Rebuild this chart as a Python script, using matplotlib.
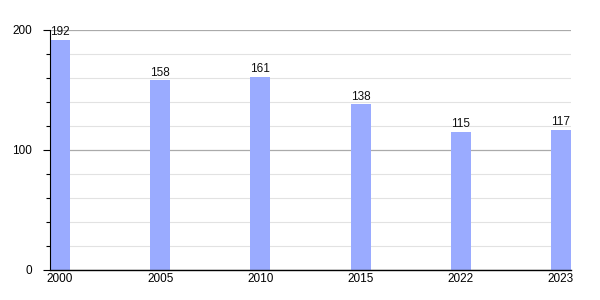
import numpy as np
from matplotlib import pyplot as plt
from matplotlib.ticker import MultipleLocator

years = ["2000", "2005", "2010", "2015", "2022", "2023"]
values = [192, 158, 161, 138, 115, 117]

plt.rcParams["font.family"] = ["Liberation Sans", "DejaVu Sans"]

fig = plt.figure(figsize=(6, 3), dpi=100)
ax = fig.add_axes([50 / 600, 30 / 300, 521 / 600, 240 / 300])

x = np.arange(len(years))
bar_w = 0.2
ax.bar(x, values, width=bar_w, align="edge", color="#9aabff", zorder=2)

# value labels above bars
for xi, v in zip(x, values):
    ax.text(xi + bar_w / 2, v + 1.5, str(v), ha="center", va="bottom",
            fontsize=8.5, color="#111111", clip_on=False)

ax.set_xlim(0, len(years) - 1 + bar_w)
ax.set_ylim(0, 200)
ax.set_xticks(x + bar_w / 2)
ax.set_xticklabels(years, fontsize=8.5)
ax.tick_params(axis="x", length=0, pad=2)

ax.yaxis.set_major_locator(MultipleLocator(100))
ax.yaxis.set_minor_locator(MultipleLocator(20))
ax.tick_params(axis="y", which="major", length=5, width=0.8, labelsize=8.5, pad=8)
ax.tick_params(axis="y", which="minor", length=3, width=0.8)
ax.grid(axis="y", which="major", color="#aaaaaa", linewidth=0.9, zorder=0)
ax.grid(axis="y", which="minor", color="#e2e2e2", linewidth=0.8, zorder=0)
ax.set_axisbelow(True)

for side in ("top", "right"):
    ax.spines[side].set_visible(False)
ax.spines["left"].set_linewidth(0.8)
ax.spines["bottom"].set_linewidth(1.0)

fig.savefig("out.png", dpi=100)
